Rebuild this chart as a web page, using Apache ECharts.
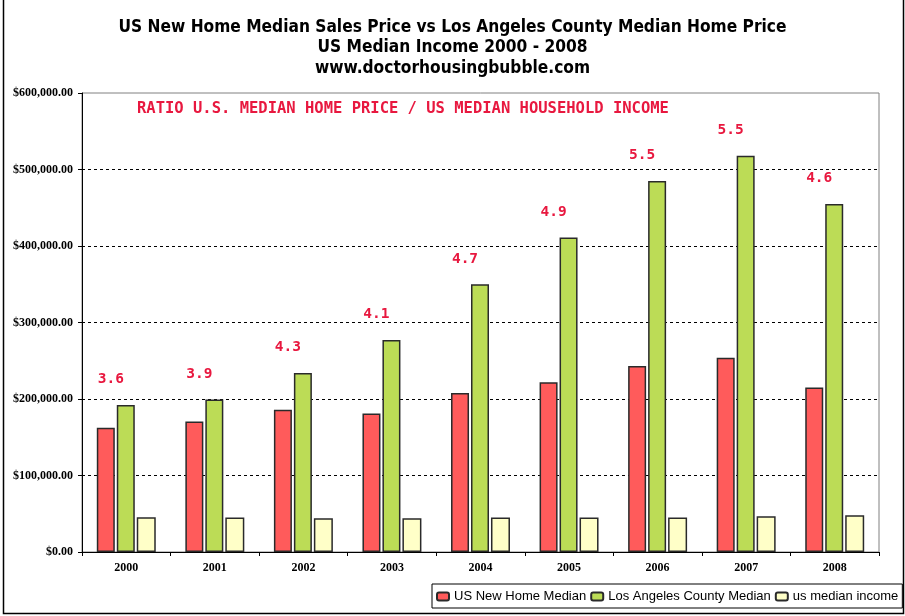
<!DOCTYPE html>
<html>
<head>
<meta charset="utf-8">
<script src="https://cdn.jsdelivr.net/npm/echarts@6/dist/echarts.min.js"></script>
<style>html,body{margin:0;padding:0;background:#fff;}#c{width:905px;height:616px;}</style>
</head>
<body>
<div id="c"></div>
<script>
var years = ['2000','2001','2002','2003','2004','2005','2006','2007','2008'];
var usNewHomeMedian = [162500, 170500, 186000, 181000, 208000, 222000, 243000, 254000, 215000];
var laCountyMedian = [192000, 199500, 234000, 277000, 350000, 411000, 485000, 518000, 455000];
var usMedianIncome = [45500, 45000, 44000, 44000, 45000, 45000, 45000, 46800, 48000];
var ratios = ['3.6','3.9','4.3','4.1','4.7','4.9','5.5','5.5','4.6'];
var seriesNames = ['US New Home Median', 'Los Angeles County Median', 'us median income'];
var titleLines = ['US New Home Median Sales Price vs Los Angeles County Median Home Price', 'US Median Income 2000 - 2008', 'www.doctorhousingbubble.com'];
var annotation = 'RATIO U.S. MEDIAN HOME PRICE / US MEDIAN HOUSEHOLD INCOME';

function money(v) {
  var s = String(Math.round(v));
  s = s.replace(/\B(?=(\d{3})+(?!\d))/g, ',');
  return '$' + s + '.00';
}

var chart = echarts.init(document.getElementById('c'), null, {renderer: 'canvas'});
var border = '#2a2a2a';
chart.setOption({
  animation: false,
  backgroundColor: '#fff',
  title: {
    text: titleLines.join('\n'),
    left: 'center',
    top: 12,
    textStyle: {fontFamily: 'DejaVu Sans Condensed', fontWeight: 'bold', fontSize: 17.2, lineHeight: 20.5, color: '#000'}
  },
  graphic: [
    {type: 'rect', left: 1, top: -5, shape: {width: 900, height: 616}, style: {fill: 'none', stroke: '#000', lineWidth: 1.5}, silent: true},
    {type: 'text', left: 137, top: 101, style: {text: annotation, fill: '#E8183F', font: 'bold 15.5px "DejaVu Sans Mono"'}}
  ],
  legend: {
    left: 432, top: 584,
    data: seriesNames,
    itemWidth: 12, itemHeight: 8, itemGap: 4,
    padding: [6, 4, 5, 4],
    borderColor: '#000', borderWidth: 1,
    textStyle: {fontFamily: 'Liberation Sans', fontSize: 13, color: '#000'}
  },
  grid: {left: 82, right: 26, top: 93, bottom: 64, show: true, borderColor: '#808080', borderWidth: 1, containLabel: false},
  xAxis: {
    type: 'category', data: years,
    axisLine: {lineStyle: {color: '#000', width: 1}},
    axisTick: {show: true, length: 4, lineStyle: {color: '#000'}},
    axisLabel: {margin: 10, fontFamily: 'Liberation Serif', fontWeight: 'bold', fontSize: 12, color: '#000'}
  },
  yAxis: {
    type: 'value', min: 0, max: 600000, interval: 100000,
    axisLine: {show: true, lineStyle: {color: '#000', width: 1}},
    axisTick: {show: true, length: 4, lineStyle: {color: '#000'}},
    axisLabel: {margin: 9, formatter: money, fontFamily: 'Liberation Serif', fontWeight: 'bold', fontSize: 12, color: '#000'},
    splitLine: {show: true, showMaxLine: false, lineStyle: {color: '#000', type: [3, 3], width: 1}}
  },
  series: [
    {name: seriesNames[0], type: 'bar', data: usNewHomeMedian, barWidth: 18, barGap: '11%',
     itemStyle: {color: '#FF5B5B', borderColor: border, borderWidth: 1.5}},
    {name: seriesNames[1], type: 'bar', data: laCountyMedian, barWidth: 18, barGap: '11%',
     itemStyle: {color: '#BCDC56', borderColor: border, borderWidth: 1.5},
     label: {show: true, position: 'top', distance: 18, offset: [-15, 0],
             formatter: function (p) { return ratios[p.dataIndex]; },
             fontFamily: 'DejaVu Sans Mono', fontWeight: 'bold', fontSize: 14.5, color: '#E8183F'}},
    {name: seriesNames[2], type: 'bar', data: usMedianIncome, barWidth: 19, barGap: '11%',
     itemStyle: {color: '#FFFFC8', borderColor: border, borderWidth: 1.5}}
  ]
});
</script>
</body>
</html>
